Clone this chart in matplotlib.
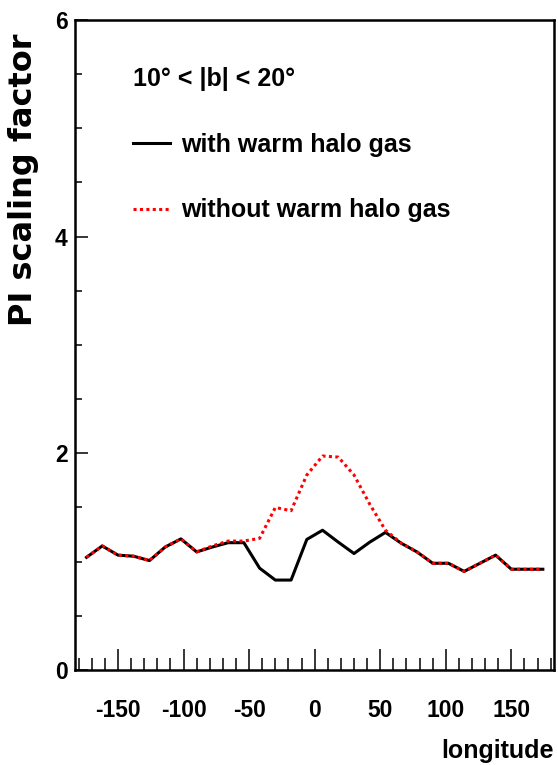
import numpy as np
import matplotlib
matplotlib.use("Agg")
import matplotlib.pyplot as plt
from matplotlib.ticker import MultipleLocator

plt.rcParams["axes.unicode_minus"] = False

# galactic longitude bin centres (12 deg bins)
longitude = [-174, -162, -150, -138, -126, -114, -102, -90, -78, -66,
             -54, -42, -30, -18, -6, 6, 18, 30, 42, 54,
             66, 78, 90, 102, 114, 126, 138, 150, 162, 174]

# PI scaling factor for 10 < |b| < 20
with_halo = [1.04, 1.145, 1.06, 1.05, 1.01, 1.135, 1.21, 1.09, 1.135, 1.175,
             1.175, 0.94, 0.83, 0.83, 1.205, 1.29, 1.18, 1.075, 1.18, 1.27,
             1.17, 1.09, 0.985, 0.985, 0.91, 0.985, 1.06, 0.93, 0.93, 0.93]
without_halo = [1.04, 1.145, 1.06, 1.05, 1.01, 1.135, 1.21, 1.09, 1.145, 1.19,
                1.19, 1.215, 1.50, 1.47, 1.80, 1.975, 1.965, 1.80, 1.53, 1.29,
                1.17, 1.09, 0.985, 0.985, 0.91, 0.985, 1.06, 0.93, 0.93, 0.93]

narrow = ["Liberation Sans Narrow", "Liberation Sans", "DejaVu Sans"]
wide = ["DejaVu Sans"]

fig = plt.figure(figsize=(5.58, 7.65), dpi=100)
ax = fig.add_axes([0.1339, 0.1242, 0.8589, 0.8497])

ax.plot(longitude, with_halo, color="black", lw=2.2, zorder=3,
        label="with warm halo gas")
ax.plot(longitude, without_halo, color="red", lw=2.2, ls=(0, (1, 1.1)),
        zorder=4, label="without warm halo gas")

ax.set_xlim(-183, 182.5)
ax.set_ylim(0, 6)
ax.xaxis.set_major_locator(MultipleLocator(50))
ax.xaxis.set_minor_locator(MultipleLocator(10))
ax.yaxis.set_major_locator(MultipleLocator(2))
ax.yaxis.set_minor_locator(MultipleLocator(0.5))

for s in ax.spines.values():
    s.set_linewidth(1.8)

ax.tick_params(axis="x", which="major", direction="in", length=15, width=1.1, pad=21)
ax.tick_params(axis="x", which="minor", direction="in", length=8.6, width=1.1)
ax.tick_params(axis="y", which="major", direction="in", length=9.4, width=1.1, pad=5)
ax.tick_params(axis="y", which="minor", direction="in", length=4.7, width=1.1)
for lab in ax.get_xticklabels() + ax.get_yticklabels():
    lab.set_family(narrow)
    lab.set_fontweight("bold")
    lab.set_fontsize(16.5)

ax.set_xlabel("longitude", family=narrow, fontweight="bold", fontsize=18,
              ha="right", va="center")
ax.xaxis.set_label_coords(1.0, -0.125)
ax.set_ylabel("PI scaling factor", family=wide, fontweight="bold", fontsize=23,
              ha="center", va="center")
ax.yaxis.set_label_coords(-0.106, 0.754)

leg = ax.legend(title="10° < |b| < 20°", loc="upper left",
                bbox_to_anchor=(0.122, 0.927), frameon=False,
                borderaxespad=0, borderpad=0, handlelength=1.48,
                handletextpad=0.44, labelspacing=1.66, alignment="left",
                prop={"family": narrow, "weight": "bold", "size": 18},
                title_fontproperties={"family": narrow, "weight": "bold", "size": 18})

fig.savefig("out.png", dpi=100)
